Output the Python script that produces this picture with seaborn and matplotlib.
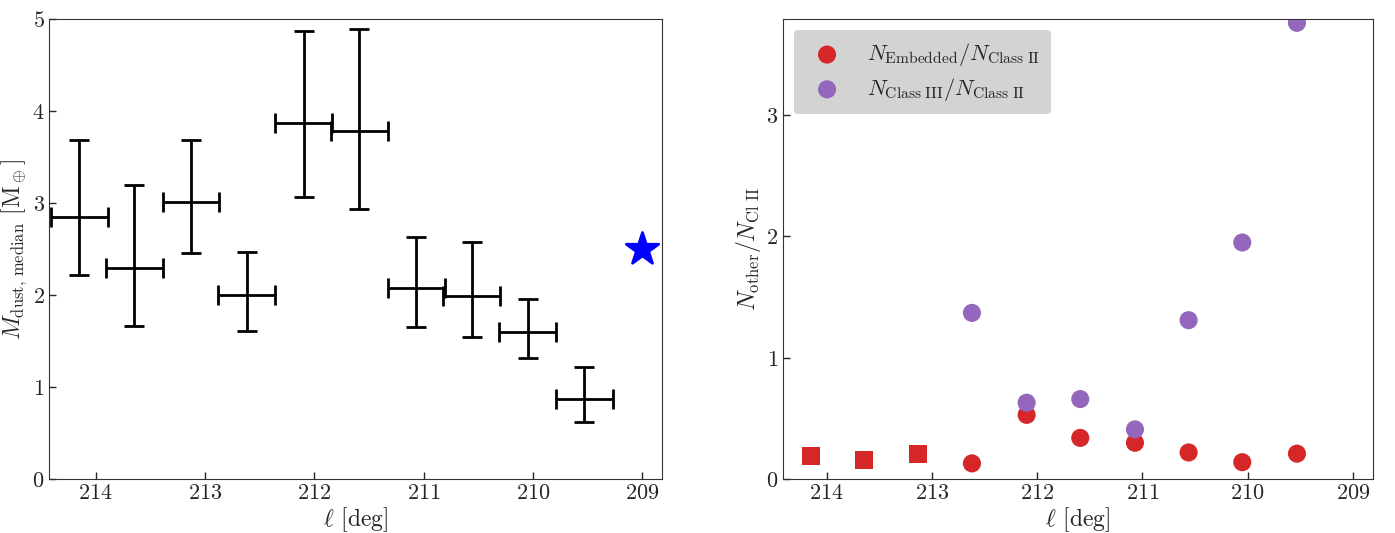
import numpy as np
import pandas as pd
import seaborn as sns
import matplotlib.pyplot as plt

# valores
longitud = [214.15, 213.65, 213.13, 212.62, 212.10, 211.59, 211.07, 210.56, 210.05, 209.53]
m_dust = [2.85, 2.30, 3.01, 2.00, 3.87, 3.78, 2.08, 1.99, 1.60, 0.87]
m_sup = [3.69, 3.20, 3.69, 2.47, 4.87, 4.89, 2.63, 2.58, 1.96, 1.22]
m_inf = [2.22, 1.66, 2.46, 1.61, 3.07, 2.94, 1.65, 1.55, 1.32, 0.62]
ancho_bin = 0.26
estrella_l, estrella_m = 209.0, 2.5

l_cuadrados = [214.15, 213.65, 213.13]
emb_cuadrados = [0.19, 0.16, 0.21]
l_circulos = [212.62, 212.10, 211.59, 211.07, 210.56, 210.05, 209.53]
emb_circulos = [0.13, 0.53, 0.34, 0.30, 0.22, 0.14, 0.21]
clase3 = [1.37, 0.63, 0.66, 0.41, 1.31, 1.95, 3.76]

sns.set_style("ticks")
plt.rcParams['font.family'] = 'serif'
plt.rcParams['font.serif'] = ['cmr10', 'DejaVu Serif']
plt.rcParams['mathtext.fontset'] = 'cm'
plt.rcParams['axes.formatter.use_mathtext'] = True
plt.rcParams['xtick.direction'] = 'in'
plt.rcParams['ytick.direction'] = 'in'
plt.rcParams['axes.edgecolor'] = '#333333'

fig = plt.figure(figsize=(13.95, 5.33), dpi=100)
ax1 = fig.add_axes([0.035, 0.101, 0.4396, 0.863])
ax2 = fig.add_axes([0.561, 0.101, 0.423, 0.863])

# ---------- Panel izquierdo ----------
df = pd.DataFrame({'l': longitud, 'm': m_dust, 'sup': m_sup, 'inf': m_inf})
yerr = np.array([df['m'] - df['inf'], df['sup'] - df['m']])
ax1.errorbar(df['l'], df['m'], xerr=ancho_bin, yerr=yerr, fmt='none',
             ecolor='black', elinewidth=2, capsize=7, capthick=2)
sns.scatterplot(x=[estrella_l], y=[estrella_m], marker='*', s=600, color='blue',
                edgecolor='blue', ax=ax1, legend=False, zorder=3)
ax1.set_xlim(214.43, 208.82)
ax1.set_ylim(0, 5)
ax1.set_xlabel(r'$\ell$ [deg]', fontsize=17, labelpad=2)
ax1.set_ylabel(r'$M_{\rm dust,\, median}$ [M$_\oplus$]', fontsize=17, labelpad=2)

# ---------- Panel derecho ----------
sns.scatterplot(x=l_cuadrados, y=emb_cuadrados, marker='s', s=170, color='#d62728',
                edgecolor='none', ax=ax2, legend=False)
sns.scatterplot(x=l_circulos, y=emb_circulos, marker='o', s=170, color='#d62728',
                edgecolor='none', ax=ax2, label=r'$N_{\rm Embedded}/N_{\rm Class\ II}$')
sns.scatterplot(x=l_circulos, y=clase3, marker='o', s=170, color='#9467bd',
                edgecolor='none', ax=ax2, label=r'$N_{\rm Class\ III}/N_{\rm Class\ II}$')
ax2.set_xlim(214.42, 208.81)
ax2.set_ylim(0, 3.79)
ax2.set_yticks([0, 1, 2, 3])
ax2.set_xlabel(r'$\ell$ [deg]', fontsize=17, labelpad=2)
ax2.set_ylabel(r'$N_{\rm other}/N_{\rm Cl\ II}$', fontsize=17, labelpad=2)
leg = ax2.legend(loc='upper left', fontsize=16, frameon=True, facecolor='#d3d3d3',
                 edgecolor='none', framealpha=1, handletextpad=0.8, borderpad=0.5,
                 labelspacing=0.35)

for ax in (ax1, ax2):
    ax.set_xticks([214, 213, 212, 211, 210, 209])
    ax.tick_params(labelsize=16, length=5, width=1, pad=3, top=False, right=False)

plt.savefig("out.png", dpi=100)
plt.close()
